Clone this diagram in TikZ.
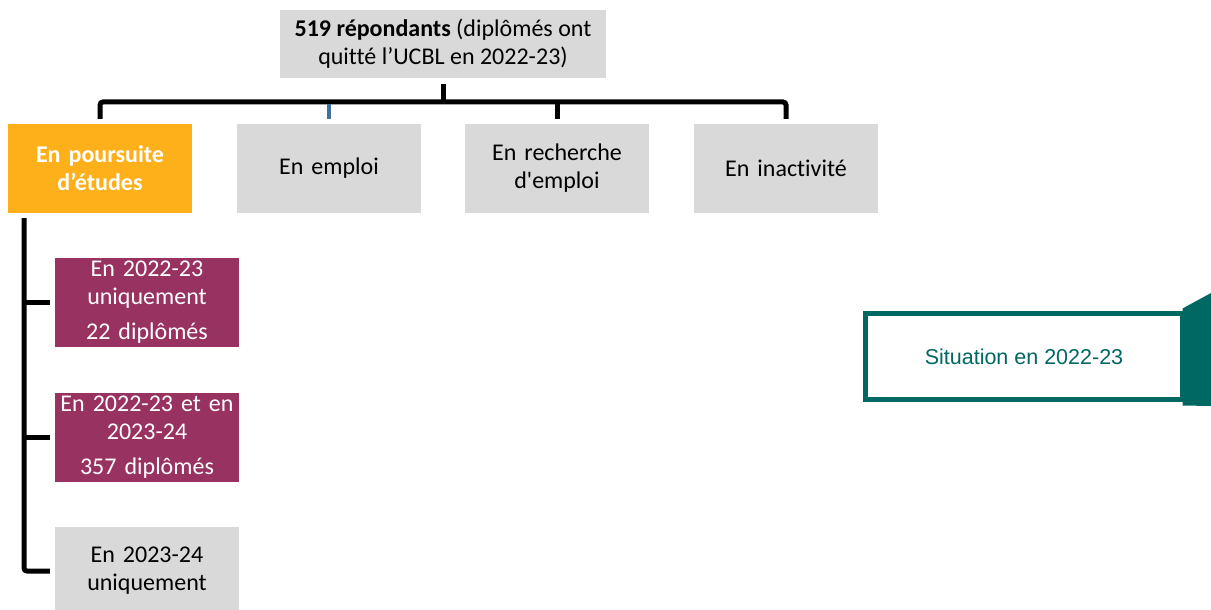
\documentclass[tikz,border=0pt]{standalone}
\usepackage{fontspec}
\newfontfamily\calibri{Carlito}[Ligatures=NoCommon]
\newfontfamily\arialfont{Liberation Sans}
\usetikzlibrary{
	calc
}
\definecolor{boxgray}{HTML}{D9D9D9}
\definecolor{orangebox}{RGB}{254,176,26}
\definecolor{plum}{RGB}{152,50,97}
\definecolor{tealdark}{RGB}{0,104,99}
\definecolor{tickblue}{RGB}{65,113,156}
\tikzset{
	every node/.style={
		font=\calibri\fontsize{24}{28}\selectfont,
		inner sep=0pt,
		align=center
	},
	statut/.style={
		fill=boxgray,
		minimum width=184,
		minimum height=89,
		text width=180
	},
	poursuite/.style={
		statut,
		fill=orangebox,
		text=white,
		font=\calibri\bfseries\fontsize{24}{28}\selectfont
	},
	periode/.style={
		statut,
		fill=plum,
		text=white
	},
	tree/.style={
		line width=5pt,
		black
	},
	tick/.style={
		line width=4pt,
		tickblue
	}
}

\begin{document}
\begin{tikzpicture}[x=1pt,y=-1pt] %%%% ARBRE DES REPONDANTS
		\useasboundingbox (0,0) rectangle (1211,610);
		\node[fill=boxgray, minimum width=326, minimum height=68] (repondants) at (443,44)
			{\textbf{519 répondants} (diplômés ont\\quitté l’UCBL en 2022-23)};
		\node[poursuite] (etudes) at (100,168.5) {En poursuite\\d’études};
		\node[statut] (emploi) at (329,168.5) {En emploi};
		\node[statut] (recherche) at (557,168.5) {En recherche\\d'emploi};
		\node[statut] (inactivite) at (786,168.5) {En inactivité};
		\node[periode] (seul2223) at (147,302.5) {En 2022-23\\uniquement\\[7pt]22 diplômés};
		\node[periode] (deuxans) at (147,437.5) {En 2022-23 et en\\2023-24\\[7pt]357 diplômés};
		\node[statut, minimum height=88] (seul2324) at (147,571) {En 2023-24\\uniquement};
		\node[draw=tealdark, line width=5pt, fill=white, minimum width=317, minimum height=86,
			text=tealdark, font=\arialfont\fontsize{21.5}{25}\selectfont] (situation) at (1024,356.5)
			{Situation en 2022-23};
		\fill[tealdark] ([shift={(-2.5,-2.5)}]situation.north east) -- (1211,293) -- (1211,406)
			-- ([shift={(-2.5,3.5)}]situation.south east) -- cycle;
		\coordinate (bar) at (443,102);
		\coordinate (spine) at (24,218);
		\draw[tree] ([yshift=-6pt]repondants.south) -- (bar);
		\draw[tree, rounded corners=3pt] ([yshift=5pt]etudes.north) |- (bar) -| ([yshift=5pt]inactivite.north);
		\draw[tree] ([yshift=5pt]recherche.north) -- (recherche.north |- bar);
		\draw[tick] ([yshift=5pt]emploi.north) -- ([yshift=-2.5pt]emploi.north |- bar);
		\draw[tree, rounded corners=3pt] (spine) |- ([xshift=-5pt]seul2324.west);
		\foreach \p in {seul2223,deuxans}
			\draw[tree] (spine |- \p.west) -- ([xshift=-5pt]\p.west);
	\end{tikzpicture}
\end{document}
